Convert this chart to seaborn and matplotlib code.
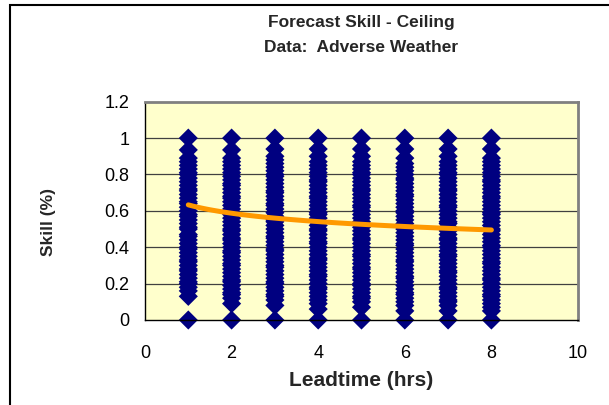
import numpy as np
import pandas as pd
import matplotlib
matplotlib.use("Agg")
import matplotlib.pyplot as plt
from matplotlib.patches import Rectangle
import seaborn as sns

# Skill values observed at each forecast leadtime (hrs)
leadtimes = [1, 2, 3, 4, 5, 6, 7, 8]
skill_1h = [0, 0.13, 0.16, 0.18, 0.20, 0.21, 0.23, 0.25, 0.27, 0.28, 0.30, 0.32, 0.33,
            0.35, 0.37, 0.39, 0.40, 0.42, 0.44, 0.46, 0.47, 0.50, 0.51, 0.53, 0.55,
            0.57, 0.58, 0.60, 0.62, 0.64, 0.65, 0.67, 0.69, 0.71, 0.72, 0.74, 0.76,
            0.78, 0.80, 0.81, 0.83, 0.85, 0.87, 0.89, 0.935, 1.0]
skill_2h = [0, 0.09, 0.12, 0.14, 0.15, 0.17, 0.19, 0.21, 0.22, 0.24, 0.26, 0.28, 0.30,
            0.31, 0.33, 0.35, 0.37, 0.38, 0.40, 0.42, 0.44, 0.45, 0.47, 0.49, 0.50,
            0.52, 0.54, 0.56, 0.58, 0.59, 0.61, 0.63, 0.65, 0.67, 0.68, 0.70, 0.72,
            0.74, 0.75, 0.77, 0.79, 0.81, 0.83, 0.85, 0.87, 0.89, 0.935, 1.0]
skill_3h = [0, 0.08, 0.11, 0.13, 0.14, 0.16, 0.18, 0.20, 0.21, 0.23, 0.25, 0.27, 0.29,
            0.30, 0.32, 0.34, 0.36, 0.38, 0.39, 0.41, 0.43, 0.45, 0.46, 0.48, 0.50,
            0.52, 0.54, 0.55, 0.57, 0.59, 0.61, 0.63, 0.64, 0.66, 0.68, 0.70, 0.71,
            0.73, 0.75, 0.77, 0.79, 0.80, 0.82, 0.84, 0.86, 0.88, 0.90, 0.94, 1.0]
skill_4h = [0, 0.06, 0.09, 0.11, 0.13, 0.15, 0.17, 0.18, 0.20, 0.22, 0.24, 0.25, 0.27,
            0.29, 0.31, 0.33, 0.34, 0.36, 0.38, 0.40, 0.42, 0.43, 0.45, 0.47, 0.49,
            0.50, 0.52, 0.54, 0.56, 0.58, 0.59, 0.61, 0.63, 0.65, 0.67, 0.68, 0.70,
            0.72, 0.74, 0.76, 0.77, 0.79, 0.81, 0.83, 0.85, 0.87, 0.90, 0.94, 1.0]
skill_5h = [0, 0.07, 0.10, 0.12, 0.13, 0.15, 0.17, 0.19, 0.20, 0.22, 0.24, 0.26, 0.28,
            0.29, 0.31, 0.33, 0.35, 0.36, 0.38, 0.40, 0.42, 0.44, 0.45, 0.47, 0.49,
            0.51, 0.53, 0.54, 0.56, 0.58, 0.60, 0.62, 0.63, 0.65, 0.67, 0.69, 0.71,
            0.72, 0.74, 0.76, 0.78, 0.80, 0.81, 0.83, 0.85, 0.87, 0.90, 0.94, 1.0]
skill_6h = [0, 0.05, 0.08, 0.10, 0.12, 0.14, 0.15, 0.17, 0.19, 0.21, 0.23, 0.24, 0.26,
            0.28, 0.30, 0.32, 0.33, 0.35, 0.37, 0.39, 0.41, 0.42, 0.44, 0.46, 0.48,
            0.50, 0.51, 0.53, 0.55, 0.57, 0.59, 0.60, 0.62, 0.64, 0.66, 0.68, 0.69,
            0.71, 0.73, 0.75, 0.77, 0.78, 0.80, 0.82, 0.84, 0.86, 0.89, 0.94, 1.0]
skill_7h = [0, 0.05, 0.08, 0.10, 0.11, 0.13, 0.15, 0.17, 0.18, 0.20, 0.22, 0.24, 0.26,
            0.27, 0.29, 0.31, 0.33, 0.35, 0.36, 0.38, 0.40, 0.42, 0.44, 0.45, 0.47,
            0.49, 0.51, 0.53, 0.54, 0.56, 0.58, 0.60, 0.62, 0.63, 0.65, 0.67, 0.69,
            0.71, 0.72, 0.74, 0.76, 0.78, 0.80, 0.81, 0.83, 0.85, 0.87, 0.90, 0.94, 1.0]
skill_8h = [0, 0.05, 0.07, 0.09, 0.11, 0.13, 0.14, 0.16, 0.18, 0.20, 0.22, 0.23, 0.25,
            0.27, 0.29, 0.31, 0.32, 0.34, 0.36, 0.38, 0.40, 0.41, 0.43, 0.45, 0.47,
            0.49, 0.50, 0.52, 0.54, 0.56, 0.58, 0.59, 0.61, 0.63, 0.65, 0.67, 0.68,
            0.70, 0.72, 0.74, 0.76, 0.77, 0.79, 0.81, 0.83, 0.85, 0.87, 0.89, 0.94, 1.0]
skill_by_leadtime = [skill_1h, skill_2h, skill_3h, skill_4h,
                     skill_5h, skill_6h, skill_7h, skill_8h]

# Logarithmic trend: skill = trend_a + trend_b * ln(leadtime)
trend_a = 0.633
trend_b = -0.0664

x_ticks = [0, 2, 4, 6, 8, 10]
y_ticks = [0, 0.2, 0.4, 0.6, 0.8, 1.0, 1.2]
y_tick_labels = ["0", "0.2", "0.4", "0.6", "0.8", "1", "1.2"]

df = pd.DataFrame(
    [(lt, v) for lt, vals in zip(leadtimes, skill_by_leadtime) for v in vals],
    columns=["leadtime", "skill"],
)

sns.set_style("white")
plt.rcParams["font.family"] = ["Liberation Sans", "DejaVu Sans"]

W, H = 609, 405
fig = plt.figure(figsize=(W / 100, H / 100), dpi=100)
fig.patch.set_facecolor("white")

# chart-area frame
fig.add_artist(Rectangle((10 / W, -0.05), 1.2, 1 - 5 / H + 0.05,
                         transform=fig.transFigure, fill=False,
                         edgecolor="black", linewidth=1.5))

left, right, top, bottom = 145, 578, 101.7, 320
ax = fig.add_axes([left / W, 1 - bottom / H, (right - left) / W, (bottom - top) / H])
ax.set_facecolor("#FFFFCC")

for yv in y_ticks[1:-1]:
    ax.axhline(yv, color="#404040", linewidth=0.9, zorder=0.5)

sns.scatterplot(data=df, x="leadtime", y="skill", ax=ax, marker="D", s=95,
                color="#000080", edgecolor="none", linewidth=0, zorder=2,
                clip_on=False)

trend_x = np.linspace(min(leadtimes), max(leadtimes), 100)
sns.lineplot(x=trend_x, y=trend_a + trend_b * np.log(trend_x), ax=ax,
             color="#FF9900", linewidth=3.6, zorder=3)

ax.set_xlim(0, 10)
ax.set_ylim(0, 1.2)
ax.set_xticks(x_ticks)
ax.set_xticklabels([str(t) for t in x_ticks])
ax.set_yticks(y_ticks)
ax.set_yticklabels(y_tick_labels)
ax.tick_params(axis="both", direction="out", length=4, width=1, color="black",
               labelsize=13, labelcolor="black")
ax.tick_params(axis="y", pad=7)
ax.tick_params(axis="x", pad=14)

for side in ["left", "bottom"]:
    ax.spines[side].set_color("black")
    ax.spines[side].set_linewidth(1)
for side in ["top", "right"]:
    ax.spines[side].set_color("#808080")
    ax.spines[side].set_linewidth(2)

ax.set_xlabel("Leadtime (hrs)", fontsize=15, fontweight="bold")
ax.set_ylabel("Skill (%)", fontsize=12.5, fontweight="bold")
ax.xaxis.label.set_va("center")
ax.yaxis.label.set_va("center")
ax.yaxis.label.set_ha("center")
ax.xaxis.set_label_coords(0.5, (bottom - 380) / (bottom - top))
ax.yaxis.set_label_coords((48 - left) / (right - left), 0.45)

cx = (left + right) / 2 / W
fig.text(cx, 1 - 22 / H, "Forecast Skill - Ceiling", ha="center", va="center",
         fontsize=12.5, fontweight="bold")
fig.text(cx, 1 - 47 / H, "Data:  Adverse Weather", ha="center", va="center",
         fontsize=12.5, fontweight="bold")

fig.savefig("out.png", dpi=100)
